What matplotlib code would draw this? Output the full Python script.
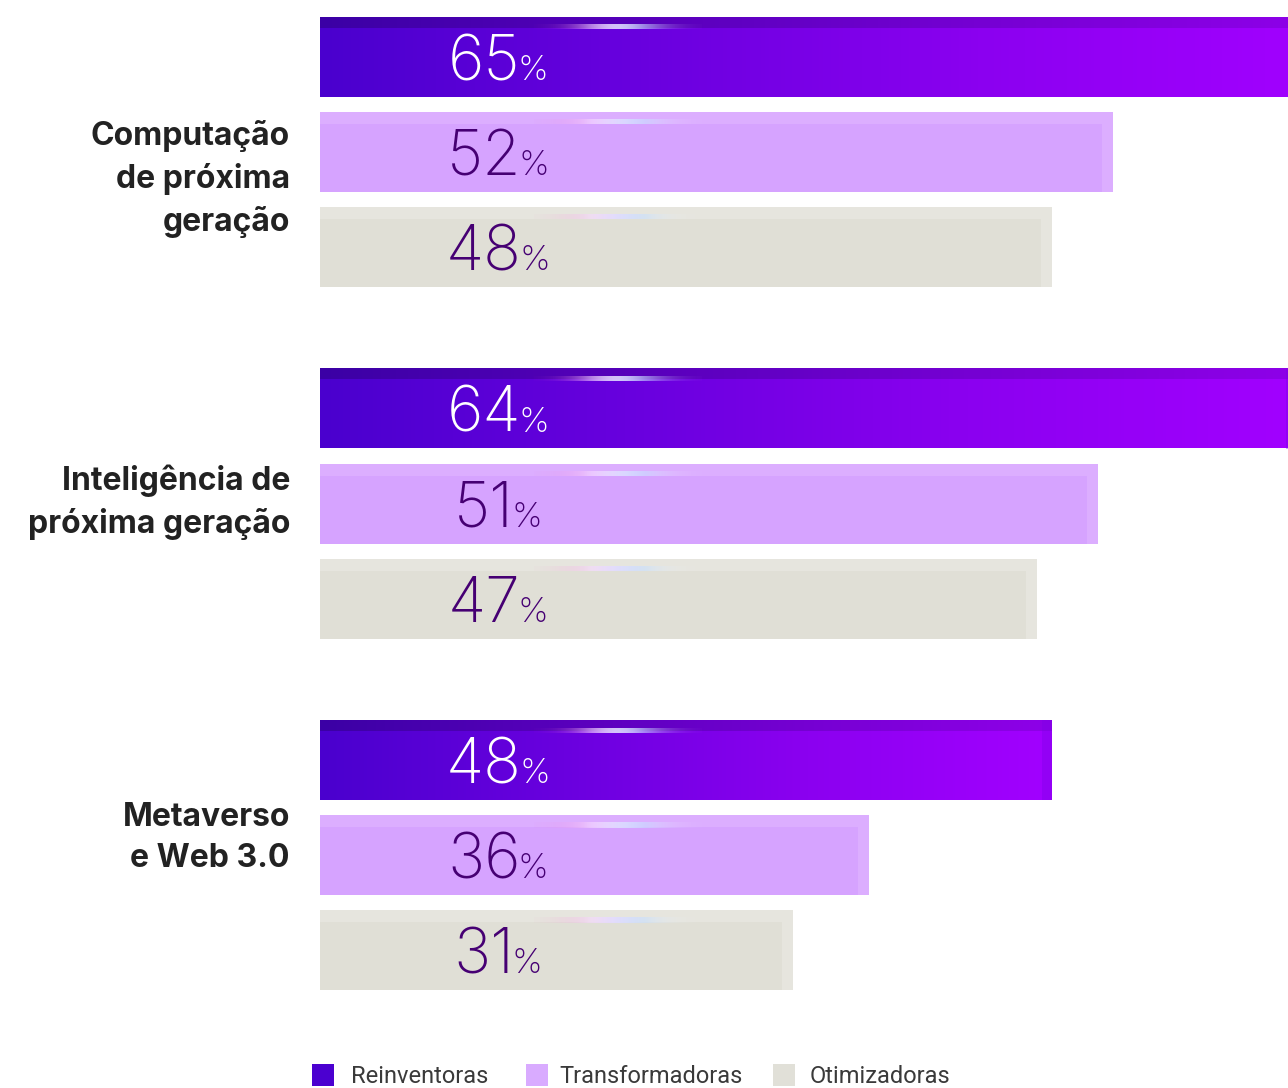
import numpy as np
import matplotlib.pyplot as plt
from matplotlib.patches import Rectangle
from matplotlib.colors import LinearSegmentedColormap
from matplotlib.offsetbox import TextArea, HPacker, AnnotationBbox

# dados
categorias = ["Computação\nde próxima\ngeração",
              "Inteligência de\npróxima geração",
              "Metaverso\ne Web 3.0"]
grupos = ["Reinventoras", "Transformadoras", "Otimizadoras"]
reinventoras = [65, 64, 48]
transformadoras = [52, 51, 36]
otimizadoras = [48, 47, 31]

cor_lavanda = "#D6A3FF"
cor_bege = "#E0DFD6"
cor_texto = "#460073"
grad_roxo = LinearSegmentedColormap.from_list(
    "roxo", ["#4A00CE", "#6A00DF", "#8B00F0", "#A200FF"])
fonte_num = ["Inter", "DejaVu Sans"]

W, H = 1288, 1088
fig = plt.figure(figsize=(W / 100, H / 100), dpi=100)
fig.patch.set_facecolor("white")

# eixo: x em %, y em "passos de barra" (95 px)
passo = 95.0
px_por_pct = 15.25
x0 = 320
ax = fig.add_axes([x0 / W, 0, 1 - x0 / W, 1])
ax.set_xlim(0, (W - x0) / px_por_pct)
ax.set_ylim(H / passo, 0)
ax.axis("off")

alt = 80 / passo
y_inicio = 57 / passo
dist_grupo = 351.5 / passo
y_nomes = [179, 502, 838]  # centro dos nomes das categorias (px)


def brilho(ax, y_topo):
    # pequeno reflexo horizontal perto do topo da barra
    n = 200
    t = np.linspace(0, 1, n)
    alpha = np.exp(-((t - 0.5) / 0.25) ** 2) * 0.9
    rgba = np.zeros((1, n, 4))
    cores = LinearSegmentedColormap.from_list(
        "b", ["#FF5FC8", "#F7D8FF", "#C8E0FF", "#FFFFFF"])(t)
    rgba[0, :, :3] = cores[:, :3]
    rgba[0, :, 3] = alpha
    yc = y_topo + 10 / passo
    ax.imshow(rgba, extent=(14.0, 25.0, yc + 2.5 / passo, yc - 2.5 / passo),
              aspect="auto", interpolation="bilinear", zorder=4)


def rotulo(ax, x, y, valor, cor):
    num = TextArea(f"{valor}", textprops=dict(fontsize=45, color=cor,
                                              family=fonte_num, fontweight="light"))
    pct = TextArea("%", textprops=dict(fontsize=25, color=cor,
                                       family=fonte_num, fontweight="light"))
    caixa = HPacker(children=[num, pct], align="baseline", pad=0, sep=-2)
    ab = AnnotationBbox(caixa, (x, y), box_alignment=(0.5, 0.5), frameon=False,
                        pad=0, zorder=6)
    ax.add_artist(ab)


x_rotulo = (498 - x0) / px_por_pct

for i, cat in enumerate(categorias):
    yg = y_inicio + i * dist_grupo

    # Reinventoras - barra com degradê
    v = reinventoras[i]
    yc = yg
    grad = np.linspace(0, 1, 256).reshape(1, -1)
    ax.imshow(grad, cmap=grad_roxo, extent=(0, v, yc + alt / 2, yc - alt / 2),
              aspect="auto", zorder=2)
    faixa = np.linspace(0, 1, 256).reshape(1, -1)
    ax.imshow(faixa, cmap=LinearSegmentedColormap.from_list("f", ["#32008A", "#8200DA"]),
              extent=(0, v, yc - alt / 2 + 11 / passo, yc - alt / 2),
              aspect="auto", alpha=0.6, zorder=3)
    ax.add_patch(Rectangle((v - 10 / px_por_pct, yc - alt / 2), 10 / px_por_pct, alt,
                           color="#7A00E6", alpha=0.35, lw=0, zorder=3))
    brilho(ax, yc - alt / 2)
    rotulo(ax, x_rotulo, yc + 0.07, v, "white")

    # Transformadoras e Otimizadoras
    for j, (vals, cor, claro) in enumerate([(transformadoras, cor_lavanda, "#DCAEFF"),
                                            (otimizadoras, cor_bege, "#E6E5DE")], start=1):
        v = vals[i]
        yc = yg + j
        ax.barh(yc, v, height=alt, color=cor, zorder=2)
        ax.add_patch(Rectangle((0, yc - alt / 2), v, 12 / passo, color=claro, lw=0, zorder=3))
        ax.add_patch(Rectangle((v - 11 / px_por_pct, yc - alt / 2), 11 / px_por_pct, alt,
                               color=claro, lw=0, zorder=3))
        brilho(ax, yc - alt / 2)
        rotulo(ax, x_rotulo, yc + 0.07, v, cor_texto)

    # nome da categoria
    fig.text(290 / W, 1 - y_nomes[i] / H, cat, ha="right", va="center",
             fontsize=23, fontweight="bold", color="#222222",
             family=["Inter", "DejaVu Sans"], linespacing=1.45)

# legenda
itens = [("Reinventoras", "#4B00D0", 312, 351), ("Transformadoras", "#D9ABFF", 526, 559),
         ("Otimizadoras", "#E1E0D8", 773, 810)]
for nome, cor, xq, xt in itens:
    fig.patches.append(Rectangle((xq / W, 1 - 1086 / H), 22 / W, 22 / H,
                                 transform=fig.transFigure, color=cor, lw=0))
    fig.text(xt / W, 1 - 1083 / H, nome, ha="left", va="baseline",
             fontsize=17, color="#3a3a3a", family=["Roboto", "DejaVu Sans"])

fig.savefig("out.png", dpi=100, facecolor="white")
